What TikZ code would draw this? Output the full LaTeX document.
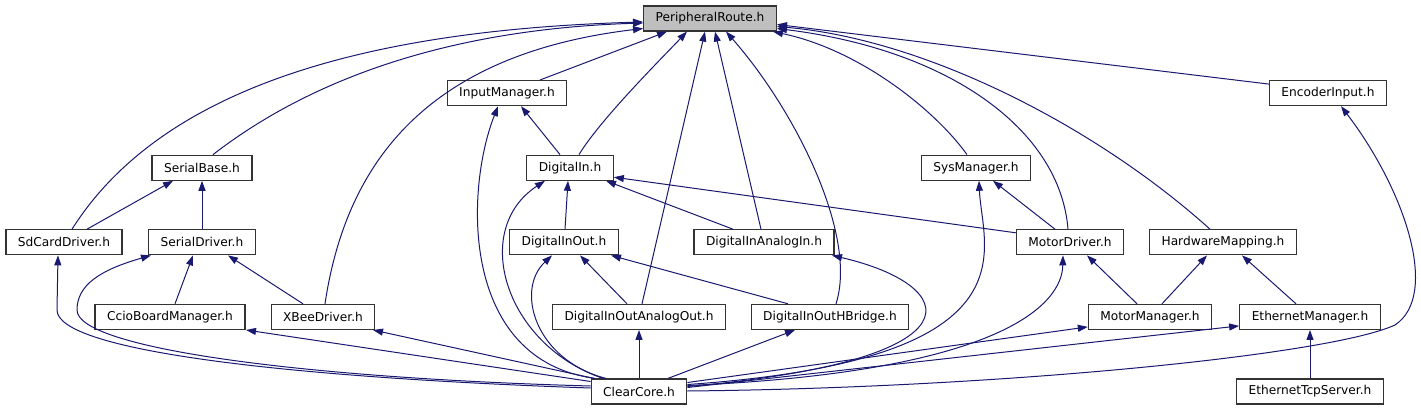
\documentclass[tikz,border=0pt]{standalone}
\usepackage{fontspec}
\setmainfont{DejaVu Sans}
\usepackage{tikz}
\usetikzlibrary{arrows.meta, positioning, shapes}
\definecolor{linkblue}{HTML}{191970}
\tikzstyle{hfile} = [rectangle, minimum height=25pt, inner xsep=12pt, text centered, draw=black!80, line width=1.2pt, fill=white, font=\fontsize{12.2}{14}\selectfont]
\tikzstyle{root} = [hfile, fill=gray!50]
\tikzstyle{arrow} = [line width=1pt, ->, >={Triangle[length=10pt,width=7pt]}, draw=linkblue, fill=none]

\begin{document}
\begin{tikzpicture}[x=1pt, y=-1pt, node distance=74.6pt]
        \useasboundingbox (0,0) rectangle (1421,411);

        \node (pr) [root] at (710,18.5) {PeripheralRoute.h};
        \node (inmgr) [hfile, below of=pr, xshift=-203pt] {InputManager.h};
        \node (enc) [hfile, below of=pr, xshift=618pt] {EncoderInput.h};
        \node (sbase) [hfile, below of=inmgr, xshift=-305pt] {SerialBase.h};
        \node (din) [hfile, below of=inmgr, xshift=63pt] {DigitalIn.h};
        \node (sysmgr) [hfile, below of=enc, xshift=-352pt] {SysManager.h};
        \node (sdcard) [hfile, below of=sbase, xshift=-138pt] {SdCardDriver.h};
        \node (sdrv) [hfile, below of=sbase] {SerialDriver.h};
        \node (dio) [hfile, below of=din, xshift=-6pt] {DigitalInOut.h};
        \node (dain) [hfile, below of=din, xshift=194pt] {DigitalInAnalogIn.h};
        \node (mdrv) [hfile, below of=sysmgr, xshift=94pt] {MotorDriver.h};
        \node (hwmap) [hfile, below of=sysmgr, xshift=247pt] {HardwareMapping.h};
        \node (ccio) [hfile, below of=sdrv, xshift=-32pt] {CcioBoardManager.h};
        \node (xbee) [hfile, below of=sdrv, xshift=121pt] {XBeeDriver.h};
        \node (dioao) [hfile, below of=dio, xshift=75pt] {DigitalInOutAnalogOut.h};
        \node (diohb) [hfile, below of=dain, xshift=66pt] {DigitalInOutHBridge.h};
        \node (mmgr) [hfile, below of=mdrv, xshift=80pt] {MotorManager.h};
        \node (emgr) [hfile, below of=hwmap, xshift=87pt] {EthernetManager.h};
        \node (cc) [hfile, below of=dioao] {ClearCore.h};
        \node (etcp) [hfile, below of=emgr] {EthernetTcpServer.h};

        % PeripheralRoute.h
        \draw [arrow] ([xshift=8pt]sdcard.north) .. controls (160,90) and (360,30) .. ([yshift=-3.5pt]pr.west);
        \draw [arrow] ([xshift=11pt]sbase.north) .. controls (290,95) and (420,30) .. ([yshift=-4.5pt]pr.west);
        \draw [arrow] ([xshift=2pt]xbee.north) .. controls (345,170) and (420,55) .. ([yshift=-10pt]pr.west);
        \draw [arrow] ([xshift=33pt]inmgr.north) -- ([xshift=-43pt]pr.south);
        \draw [arrow] ([xshift=9pt]din.north) .. controls (600,120) and (660,60) .. ([xshift=-23pt]pr.south);
        \draw [arrow] ([xshift=3pt]dioao.north) -- ([xshift=-5pt]pr.south);
        \draw [arrow] ([xshift=-3pt]dain.north) -- ([xshift=5pt]pr.south);
        \draw [arrow] ([xshift=6pt]diohb.north) .. controls (858,235) and (795,110) .. ([xshift=16pt]pr.south);
        \draw [arrow] ([xshift=-9pt]sysmgr.north) .. controls (935,110) and (860,50) .. ([xshift=63pt]pr.south);
        \draw [arrow] ([xshift=-2pt]mdrv.north) .. controls (1060,130) and (950,50) .. ([yshift=-10pt]pr.east);
        \draw [arrow] ([xshift=-13pt]hwmap.north) .. controls (1100,130) and (930,40) .. ([yshift=-8pt]pr.east);
        \draw [arrow] ([yshift=9pt]enc.west) -- ([yshift=-6pt]pr.east);

        % second row
        \draw [arrow] ([xshift=-10pt]din.north) -- ([xshift=14pt]inmgr.south);
        \draw [arrow] ([xshift=-44pt]cc.north) .. controls (460,360) and (465,190) .. ([xshift=-9pt]inmgr.south);
        \draw [arrow] ([yshift=0.5pt]cc.east) .. controls (1000,388) and (1330,355) .. (1395,325) .. controls (1440,295) and (1405,190) .. ([xshift=13pt]enc.south);

        % third row
        \draw [arrow] ([xshift=23pt]sdcard.north) -- ([xshift=-29pt]sbase.south);
        \draw [arrow] (sdrv) -- (sbase);
        \draw [arrow] ([xshift=1pt]dio.north) -- ([xshift=-2pt]din.south);
        \draw [arrow] ([xshift=-31pt]dain.north) -- ([xshift=36pt]din.south);
        \draw [arrow] ([yshift=9.5pt]mdrv.west) -- ([yshift=-9.5pt]din.east);
        \draw [arrow] ([xshift=-36pt]cc.north) .. controls (505,345) and (470,230) .. ([xshift=-25pt]din.south);
        \draw [arrow] ([xshift=-15pt]mdrv.north) -- ([xshift=17pt]sysmgr.south);
        \draw [arrow] ([yshift=7pt]cc.east) .. controls (1040,360) and (982,250) .. ([xshift=3pt]sysmgr.south);

        % fourth row
        \draw [arrow] ([yshift=3.5pt]cc.west) .. controls (300,378) and (57,352) .. (57,310) -- ([xshift=-6pt]sdcard.south);
        \draw [arrow] ([yshift=5.5pt]cc.west) .. controls (300,378) and (77,348) .. (77,310) .. controls (77,285) and (100,270) .. ([xshift=-51pt]sdrv.south);
        \draw [arrow] ([xshift=5pt]ccio.north) -- ([xshift=-9pt]sdrv.south);
        \draw [arrow] ([xshift=-20pt]xbee.north) -- ([xshift=26pt]sdrv.south);
        \draw [arrow] ([xshift=-12pt]dioao.north) -- ([xshift=16pt]dio.south);
        \draw [arrow] ([xshift=-42pt]diohb.north) -- ([xshift=47pt]dio.south);
        \draw [arrow] ([xshift=-33pt]cc.north) .. controls (535,360) and (515,290) .. ([xshift=-12pt]dio.south);
        \draw [arrow] ([yshift=5pt]cc.east) .. controls (990,360) and (960,285) .. ([xshift=68pt]dain.south);
        \draw [arrow] ([xshift=-13pt]mmgr.north) -- ([xshift=17pt]mdrv.south);
        \draw [arrow] ([yshift=6pt]cc.east) .. controls (1000,372) and (1062,305) .. ([xshift=-7pt]mdrv.south);
        \draw [arrow] ([xshift=12pt]mmgr.north) -- ([xshift=-16pt]hwmap.south);
        \draw [arrow] ([xshift=-14pt]emgr.north) -- ([xshift=19pt]hwmap.south);

        % fifth row
        \draw [arrow] ([yshift=10pt]cc.west) -- ([xshift=76pt]ccio.south);
        \draw [arrow] ([xshift=-45pt]cc.north) -- ([xshift=50pt]xbee.south);
        \draw [arrow] (cc) -- (dioao);
        \draw [arrow] ([xshift=29pt]cc.north) -- ([xshift=-35pt]diohb.south);
        \draw [arrow] ([yshift=9pt]cc.east) -- ([yshift=-10pt]mmgr.west);
        \draw [arrow] ([yshift=4pt]cc.east) -- ([yshift=-9pt]emgr.west);
        \draw [arrow] (etcp) -- (emgr);

\end{tikzpicture}
\end{document}
